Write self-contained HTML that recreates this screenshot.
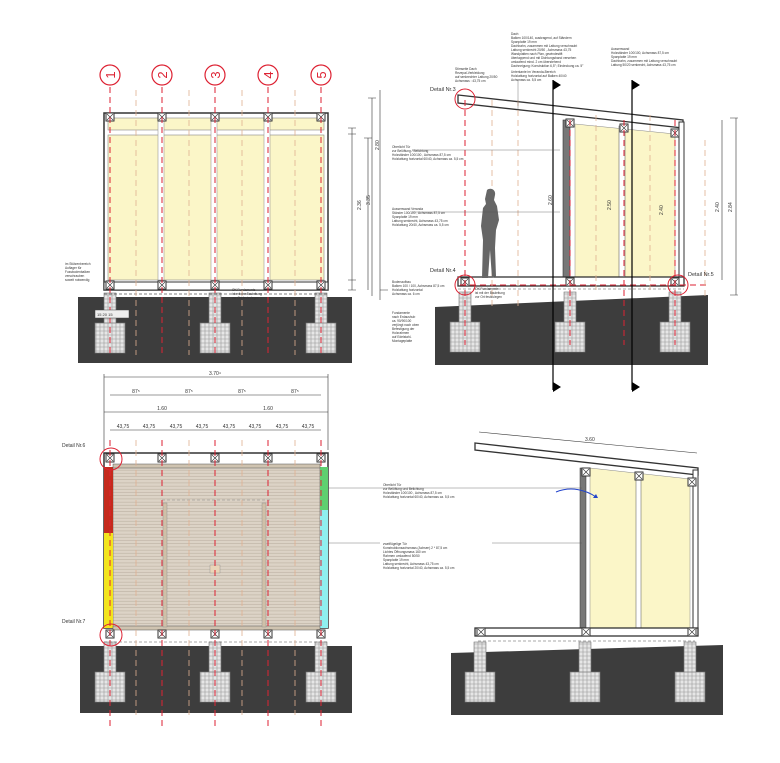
<!DOCTYPE html>
<html><head><meta charset="utf-8"><style>
html,body{margin:0;padding:0;background:#fff}
svg{display:block}
text{font-family:"Liberation Sans",sans-serif;fill:#333}
</style></head><body>
<svg width="780" height="763" viewBox="0 0 780 763" xmlns="http://www.w3.org/2000/svg">
<defs>
<pattern id="gr" width="4" height="4" patternUnits="userSpaceOnUse"><rect width="4" height="4" fill="#e6e6e6"/><path d="M0 2h4M2 0v4" stroke="#999" stroke-width="0.6"/></pattern>
<pattern id="bd" width="6" height="3.2" patternUnits="userSpaceOnUse"><rect width="6" height="3.2" fill="#dcd3c6"/><path d="M0 3h6" stroke="#b9ae9f" stroke-width="0.7"/></pattern>
<g id="foot"><rect x="-6" y="0" width="12" height="32" fill="url(#gr)" stroke="#777" stroke-width="0.6"/><rect x="-15" y="30" width="30" height="30" fill="url(#gr)" stroke="#777" stroke-width="0.6"/></g>
<g id="post"><rect x="-4" y="-4" width="8" height="8" fill="#fff" stroke="#333" stroke-width="1"/><path d="M-3 -3L3 3M3 -3L-3 3" stroke="#333" stroke-width="0.6"/></g>
</defs>

<!-- ============ TOP LEFT ELEVATION ============ -->
<rect x="78" y="297" width="274" height="66" fill="#3d3d3d"/>
<use href="#foot" x="110" y="293"/><use href="#foot" x="215" y="293"/><use href="#foot" x="321" y="293"/>
<rect x="104" y="113" width="224" height="177" fill="#fff" stroke="#333" stroke-width="1.5"/>
<rect x="108" y="118" width="216" height="12" fill="#fbf6c8" stroke="#888" stroke-width="0.6"/>
<rect x="108" y="135" width="216" height="145" fill="#fbf6c8" stroke="#888" stroke-width="0.6"/>
<g fill="#fff" stroke="#888" stroke-width="0.5">
<rect x="158" y="118" width="6" height="162"/><rect x="211" y="118" width="6" height="162"/><rect x="264" y="118" width="6" height="162"/>
</g>
<rect x="104" y="282" width="224" height="8" fill="#fff" stroke="#333" stroke-width="1"/>
<line x1="104" y1="294" x2="328" y2="294" stroke="#555" stroke-dasharray="3,2" stroke-width="0.7"/>
<g><use href="#post" x="110" y="117"/><use href="#post" x="162" y="117"/><use href="#post" x="215" y="117"/><use href="#post" x="268" y="117"/><use href="#post" x="321" y="117"/>
<use href="#post" x="110" y="285"/><use href="#post" x="162" y="285"/><use href="#post" x="215" y="285"/><use href="#post" x="268" y="285"/><use href="#post" x="321" y="285"/></g>
<g stroke="#d23" stroke-width="1" stroke-dasharray="6,4">
<path d="M110 87V355M162 87V355M215 87V355M268 87V355M321 87V355"/></g>
<g stroke="#e0b090" stroke-width="0.8" stroke-dasharray="6,4"><path d="M136 90V355M189 90V355M242 90V355M295 90V355"/></g>
<g fill="#fff" stroke="#d23" stroke-width="1.2">
<circle cx="110" cy="75" r="10"/><circle cx="162" cy="75" r="10"/><circle cx="215" cy="75" r="10"/><circle cx="268" cy="75" r="10"/><circle cx="321" cy="75" r="10"/></g>
<g font-size="13" text-anchor="middle" style="fill:#d23">
<text x="110" y="80" style="fill:#d23" transform="rotate(-90 110 75)">1</text>
<text x="162" y="80" style="fill:#d23" transform="rotate(-90 162 75)">2</text>
<text x="215" y="80" style="fill:#d23" transform="rotate(-90 215 75)">3</text>
<text x="268" y="80" style="fill:#d23" transform="rotate(-90 268 75)">4</text>
<text x="321" y="80" style="fill:#d23" transform="rotate(-90 321 75)">5</text></g>
<g stroke="#333" stroke-width="0.6" fill="none">
<path d="M352 128V290M368 138V290M372 98V296M348 128h8M348 134h8M348 280h8M348 290h8M364 138h8M368 98h8"/></g>
<g font-size="5"><text x="361" y="210" transform="rotate(-90 361 210)">2.36</text><text x="370" y="205" transform="rotate(-90 370 205)">3.35</text><text x="379" y="150" transform="rotate(-90 379 150)">2.80</text></g>
<g font-size="3.2"><text x="65" y="265">im Stützenbereich</text><text x="65" y="269">Auflager für</text><text x="65" y="273">Fussbodenbalken</text><text x="65" y="277">verschrauben</text><text x="65" y="281">soweit notwendig</text>
<text x="232" y="291">OK Fundamente</text><text x="232" y="295">ist mit der Bauleitung</text><text x="232" y="299">vor Ort festzulegen</text></g>
<rect x="95" y="310" width="34" height="8" fill="#eee" stroke="#444" stroke-width="0.5"/>
<text x="97" y="316" font-size="4">15 20 15</text>

<!-- ============ TOP RIGHT SECTION ============ -->
<polygon points="435,307 708,295 708,365 435,365" fill="#3d3d3d"/>
<use href="#foot" x="465" y="292"/><use href="#foot" x="570" y="292"/><use href="#foot" x="675" y="292"/>
<polygon points="575,124 675,134 675,280 575,280" fill="#fbf6c8" stroke="#888" stroke-width="0.5"/>
<rect x="619" y="126" width="6" height="154" fill="#fff" stroke="#666" stroke-width="0.6"/>
<polygon points="458,95 683,120 683,128 458,103" fill="#fff" stroke="#333" stroke-width="1.3"/>
<rect x="563" y="120" width="7" height="160" fill="#777" stroke="#333" stroke-width="0.6"/>
<rect x="679" y="122" width="5" height="160" fill="#fff" stroke="#333" stroke-width="1"/>
<rect x="458" y="277" width="226" height="9" fill="#fff" stroke="#333" stroke-width="1.3"/>
<line x1="458" y1="289" x2="684" y2="289" stroke="#555" stroke-dasharray="3,2" stroke-width="0.6"/>
<use href="#post" x="465" y="282"/><use href="#post" x="570" y="282"/><use href="#post" x="675" y="282"/><use href="#post" x="570" y="123"/><use href="#post" x="624" y="128"/><use href="#post" x="675" y="133"/>
<g stroke="#d23" stroke-width="1" stroke-dasharray="6,4"><path d="M465 100V345M570 120V345M624 120V345M675 120V345M460 285H710"/></g>
<g stroke="#e0b090" stroke-width="0.8" stroke-dasharray="6,4"><path d="M492 100V310M518 100V310M596 115V290M650 115V290M705 140V300"/></g>
<path d="M487 190c4-3 9 0 8 5l-1 5 3 6 2 14-3 10-1 18 1 28-4 2-2-28-2 28-6 0 1-38-2-14 2-18 3-4-1-5z" fill="#666"/>
<g stroke="#000" stroke-width="1.2"><path d="M553 80V390M632 80V390"/></g>
<g fill="#000"><path d="M553 80l8 5-8 5zM632 80l8 5-8 5zM553 382l8 5-8 5zM632 382l8 5-8 5z"/></g>
<g fill="none" stroke="#d23" stroke-width="1"><circle cx="465" cy="99" r="10"/><circle cx="465" cy="285" r="10"/><circle cx="678" cy="285" r="10"/></g>
<g font-size="5.5"><text x="430" y="91">Detail Nr.3</text><text x="430" y="272">Detail Nr.4</text><text x="688" y="276">Detail Nr.5</text></g>
<g stroke="#333" stroke-width="0.6" fill="none"><path d="M380 90V300M736 118V295M722 120V280M380 290h8M730 295h8M730 118h8"/></g>
<g font-size="5"><text x="611" y="210" transform="rotate(-90 611 210)">2.50</text><text x="663" y="215" transform="rotate(-90 663 215)">2.40</text><text x="552" y="205" transform="rotate(-90 552 205)">2.60</text><text x="719" y="212" transform="rotate(-90 719 212)">2.40</text><text x="732" y="212" transform="rotate(-90 732 212)">2.84</text></g>
<g font-size="3.2">
<text x="511" y="35">Dach</text><text x="511" y="39">Balken 100/140, auskragend, auf Ständern</text><text x="511" y="43">Spanplatte 19 mm</text><text x="511" y="47">Dachbahn, zusammen mit Lattung verschraubt</text><text x="511" y="51">Lattung senkrecht 20/50 , Achsmass 43,75</text><text x="511" y="55">Wandplatten nach Plan, gewindestift</text><text x="511" y="59">überlappend und mit Dichtungsband versehen</text><text x="511" y="63">umlaufend mind. 2 cm überstehend</text><text x="511" y="67">Dachneigung: Konstruktion 6,5°; Eindeckung ca. 5°</text>
<text x="511" y="73">Unterkante im Veranda-Bereich</text><text x="511" y="77">Holzlattung horizontal auf Balken 40/40</text><text x="511" y="81">Achsmass ca. 5,5 cm</text>
<text x="455" y="70">Stirnseite Dach</text><text x="455" y="74">Rezepal-Verkleidung</text><text x="455" y="78">auf senkrechter Lattung 20/50</text><text x="455" y="82">Achsmass : 43,75 cm</text>
<text x="611" y="50">Aussenwand</text><text x="611" y="54">Holzständer 100/100, Achsmass 87,5 cm</text><text x="611" y="58">Spanplatte 19 mm</text><text x="611" y="62">Dachbahn, zusammen mit Lattung verschraubt</text><text x="611" y="66">Lattung 50/20 senkrecht, Achsmass 43,75 cm</text>
<text x="392" y="148">Oberlicht Tür</text><text x="392" y="152">zur Belüftung / Belichtung</text><text x="392" y="156">Holzständer 100/100 , Achsmass 87,5 cm</text><text x="392" y="160">Holzlattung horizontal 60/40, Achsmass ca. 5,5 cm</text>
<text x="392" y="210">Aussenwand Veranda</text><text x="392" y="214">Ständer 100/100 , Achsmass 87,5 cm</text><text x="392" y="218">Spanplatte 19 mm</text><text x="392" y="222">Lattung senkrecht, Achsmass 43,75 cm</text><text x="392" y="226">Holzlattung 20/40, Achsmass ca. 5,5 cm</text>
<text x="392" y="283">Bodenaufbau</text><text x="392" y="287">Balken 100 / 100, Achsmass 87,5 cm</text><text x="392" y="291">Holzlattung horizontal</text><text x="392" y="295">Achsmass ca. 6 cm</text>
<text x="392" y="314">Fundamente</text><text x="392" y="318">nach Erdaushub</text><text x="392" y="322">ca. 90/90/100</text><text x="392" y="326">verjüngt nach oben</text><text x="392" y="330">Befestigung der</text><text x="392" y="334">Holzrahmen</text><text x="392" y="338">auf Edelstahl-</text><text x="392" y="342">Montageplatte</text>
<text x="475" y="290">OK Fundamente</text><text x="475" y="294">ist mit der Bauleitung</text><text x="475" y="298">vor Ort festzulegen</text></g>
<g stroke="#555" stroke-width="0.4"><path d="M412 150H560M412 212H560M518 80V110"/></g>

<!-- ============ BOTTOM LEFT PLAN ============ -->
<rect x="80" y="646" width="272" height="67" fill="#3d3d3d"/>
<use href="#foot" x="110" y="642"/><use href="#foot" x="215" y="642"/><use href="#foot" x="321" y="642"/>
<rect x="104" y="453" width="224" height="175" fill="#fff" stroke="#333" stroke-width="1.5"/>
<rect x="113" y="467" width="207" height="161" fill="url(#bd)" stroke="#666" stroke-width="0.6"/>
<rect x="104" y="467" width="9" height="66" fill="#c52a1c"/><rect x="104" y="533" width="9" height="95" fill="#f3e41c"/>
<rect x="320" y="467" width="8" height="43" fill="#5fd070"/><rect x="320" y="510" width="8" height="118" fill="#8ff0f0"/>
<rect x="113" y="464" width="207" height="4" fill="#cfc3b0" stroke="#555" stroke-width="0.5"/>
<rect x="113" y="626" width="207" height="4" fill="#cfc3b0" stroke="#555" stroke-width="0.5"/>
<rect x="163" y="503" width="4" height="124" fill="#cfc0a8" stroke="#888" stroke-width="0.4"/>
<rect x="262" y="503" width="4" height="124" fill="#cfc0a8" stroke="#888" stroke-width="0.4"/>
<rect x="210" y="565" width="10" height="8" fill="#e9d5b8" stroke="#888" stroke-width="0.4"/>
<path d="M162 500H270" stroke="#888" stroke-dasharray="3,2" stroke-width="0.6"/>
<line x1="104" y1="642" x2="328" y2="642" stroke="#555" stroke-dasharray="3,2" stroke-width="0.6"/>
<use href="#post" x="110" y="458"/><use href="#post" x="162" y="458"/><use href="#post" x="215" y="458"/><use href="#post" x="268" y="458"/><use href="#post" x="321" y="458"/>
<use href="#post" x="110" y="634"/><use href="#post" x="162" y="634"/><use href="#post" x="215" y="634"/><use href="#post" x="268" y="634"/><use href="#post" x="321" y="634"/>
<g stroke="#d23" stroke-width="1" stroke-dasharray="6,4"><path d="M110 440V730M162 440V730M215 440V730M268 440V730M321 440V730"/></g>
<g stroke="#e0b090" stroke-width="0.8" stroke-dasharray="6,4"><path d="M136 440V715M189 440V715M242 440V715M295 440V715"/></g>
<g fill="none" stroke="#d23" stroke-width="1"><circle cx="111" cy="459" r="11"/><circle cx="111" cy="635" r="11"/></g>
<g font-size="5"><text x="62" y="447">Detail Nr.6</text><text x="62" y="623">Detail Nr.7</text></g>
<g stroke="#333" stroke-width="0.6"><path d="M104 377H328M110 395H321M104 412H328M110 430H321M104 374V450M328 374V450"/></g>
<g font-size="5" text-anchor="middle"><text x="215" y="375">3.70⁴</text><text x="136" y="393">87⁵</text><text x="189" y="393">87⁵</text><text x="242" y="393">87⁵</text><text x="295" y="393">87⁵</text><text x="162" y="410">1.60</text><text x="268" y="410">1.60</text>
<text x="123" y="428">43,75</text><text x="149" y="428">43,75</text><text x="176" y="428">43,75</text><text x="202" y="428">43,75</text><text x="229" y="428">43,75</text><text x="255" y="428">43,75</text><text x="282" y="428">43,75</text><text x="308" y="428">43,75</text></g>
<g stroke="#555" stroke-width="0.4"><path d="M328 488H380M328 543H380"/></g>

<!-- ============ BOTTOM RIGHT SECTION ============ -->
<polygon points="451,653 723,645 723,715 451,715" fill="#3d3d3d"/>
<use href="#foot" x="480" y="642"/><use href="#foot" x="585" y="642"/><use href="#foot" x="690" y="642"/>
<polygon points="590,468 690,479 690,628 590,628" fill="#fbf6c8" stroke="#888" stroke-width="0.5"/>
<rect x="636" y="474" width="5" height="154" fill="#fff" stroke="#555" stroke-width="0.5"/>
<polygon points="475,443 698,468 698,475 475,450" fill="#fff" stroke="#333" stroke-width="1.3"/>
<rect x="580" y="468" width="6" height="162" fill="#777" stroke="#333" stroke-width="0.5"/>
<rect x="693" y="470" width="5" height="160" fill="#fff" stroke="#333" stroke-width="1"/>
<rect x="475" y="628" width="223" height="8" fill="#fff" stroke="#333" stroke-width="1.3"/>
<line x1="478" y1="641" x2="695" y2="641" stroke="#555" stroke-dasharray="3,2" stroke-width="0.6"/>
<use href="#post" x="481" y="632"/><use href="#post" x="586" y="632"/><use href="#post" x="692" y="632"/><use href="#post" x="586" y="472"/><use href="#post" x="639" y="476"/><use href="#post" x="692" y="482"/>
<path d="M556 492c15-6 30-2 40 5" fill="none" stroke="#2244cc" stroke-width="1"/><path d="M598 498l-5 0 3-4z" fill="#2244cc"/>
<path d="M479 432L697 453" stroke="#333" stroke-width="0.6"/>
<text x="585" y="441" font-size="5">3.60</text>
<g stroke="#555" stroke-width="0.4"><path d="M380 488H582M492 543H582"/></g>
<g font-size="3.2"><text x="383" y="486">Oberlicht Tür</text><text x="383" y="490">zur Belüftung und Belichtung</text><text x="383" y="494">Holzständer 100/100 , Achsmass 87,5 cm</text><text x="383" y="498">Holzlattung horizontal 60/40, Achsmass ca. 5,5 cm</text>
<text x="383" y="545">zweiflügelige Tür</text><text x="383" y="549">Konstruktionsachsmass (Achsen) 2 * 87,5 cm</text><text x="383" y="553">Lichtes Öffnungsmass 160 cm</text><text x="383" y="557">Rahmen umlaufend 50/50</text><text x="383" y="561">Spanplatte 19 mm</text><text x="383" y="565">Lattung senkrecht, Achsmass 43,75 cm</text><text x="383" y="569">Holzlattung horizontal 20/40, Achsmass ca. 5,5 cm</text></g>
</svg>
</body></html>
